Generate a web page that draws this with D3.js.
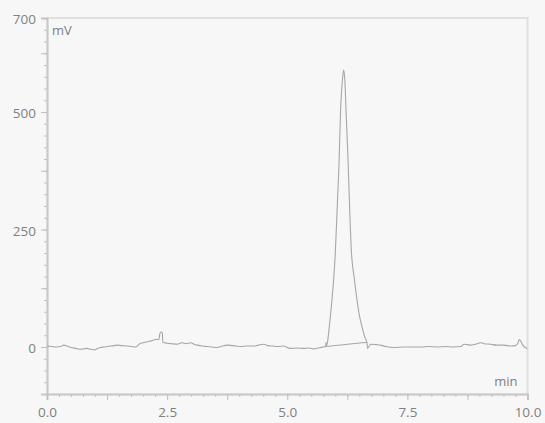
<!doctype html>
<html lang="en">
<head>
<meta charset="utf-8">
<script src="https://d3js.org/d3.v7.min.js"></script>
<style>
  body { margin: 0; background: #f7f7f7; }
  .tick text { font-family: "Open Sans", sans-serif; font-size: 13.5px; fill: #808080; }
</style>
</head>
<body>
<div id="chart"></div>
<script>
// chromatogram trace (time in min, signal in mV)
var times = [0.00, 0.10, 0.20, 0.28, 0.35, 0.42, 0.50, 0.60, 0.69, 0.76, 0.83, 0.92, 1.00, 1.05, 1.11, 1.20,
  1.32, 1.40, 1.46, 1.55, 1.67, 1.76, 1.84, 1.90, 1.94, 2.00, 2.08, 2.17, 2.26, 2.33, 2.35, 2.37, 2.40, 2.41,
  2.50, 2.60, 2.71, 2.81, 2.90, 2.99, 3.06, 3.13, 3.23, 3.33, 3.44, 3.54, 3.65, 3.75, 3.85, 3.94, 4.03, 4.15,
  4.31, 4.40, 4.51, 4.60, 4.70, 4.79, 4.92, 5.06, 5.20, 5.34, 5.45, 5.55, 5.65, 5.75, 5.80, 5.805, 5.81, 5.84,
  5.875, 5.93, 5.97, 6.00, 6.04, 6.08, 6.11, 6.15, 6.173, 6.20, 6.223, 6.265, 6.298, 6.333, 6.39, 6.452, 6.50,
  6.556, 6.61, 6.66, 6.67, 6.74, 6.85, 6.94, 7.05, 7.22, 7.43, 7.60, 7.78, 7.95, 8.13, 8.30, 8.45, 8.61, 8.68,
  8.75, 8.82, 8.92, 9.03, 9.10, 9.24, 9.35, 9.51, 9.65, 9.75, 9.80, 9.83, 9.87, 9.90, 9.95, 10.00];
var signal = [2, 1, 0, 1, 4, 2, -1, -3, -5, -4, -3, -5, -6, -3, -1, 0,
  2, 3, 4, 3, 2, 1, 0, 4, 8, 9, 11, 13, 16, 16, 29, 32, 30, 10,
  8, 7, 6, 9, 7, 9, 6, 4, 2, 1, 0, -1, 2, 4, 3, 2, 1, 2,
  2, 4, 6, 3, 2, 1, 2, -3, -2, -3, -2, -4, -2, 0, 1, 10, 2, 12,
  43, 100, 150, 200, 298, 398, 504, 570, 589, 565, 504, 398, 298, 206, 150, 100, 68,
  43, 22, 9, -3, 6, 5, 4, 1, -1, 0, 0, 0, 1, 0, 1, 0, 1, 6,
  5, 4, 6, 9, 7, 6, 4, 4, 2, 3, 8, 16, 10, 4, -1, -3];

// integration baseline under the main peak
var baseTimes = [5.81, 6.66];
var baseSignal = [1, 10];

var xMajor = [0, 2.5, 5, 7.5, 10];
var xMid = [1.25, 3.75, 6.25, 8.75];
var yMajor = [0, 250, 500, 700];
var yMid = [125, 375, 625];

var width = 545, height = 423;
var svg = d3.select("#chart").append("svg")
  .attr("width", width)
  .attr("height", height);

var x = d3.scaleLinear().domain([0, 10]).range([47, 527.5]);
var y = d3.scaleLinear().domain([-100, 700]).range([394, 18]);

// frame on top and right
svg.append("path")
  .attr("d", "M" + x(0) + "," + y(700) + "H" + x(10) + "V" + y(-100))
  .attr("fill", "none")
  .attr("stroke", "#e0e0e0")
  .attr("stroke-width", 2);

var xMinor = d3.range(0, 10.001, 0.25);
var yMinor = d3.range(-100, 700.001, 25);

// y axis: minor, mid, major
svg.append("g").attr("transform", "translate(" + x(0) + ",0)")
  .call(d3.axisLeft(y).tickValues(yMinor).tickSize(3).tickFormat(""));
svg.append("g").attr("transform", "translate(" + x(0) + ",0)")
  .call(d3.axisLeft(y).tickValues(yMid).tickSize(6).tickFormat(""));
svg.append("g").attr("transform", "translate(" + x(0) + ",0)")
  .call(d3.axisLeft(y).tickValues(yMajor).tickSize(6).tickPadding(5).tickFormat(d3.format("d")));

// x axis
svg.append("g").attr("transform", "translate(0," + y(-100) + ")")
  .call(d3.axisBottom(x).tickValues(xMinor).tickSize(3).tickFormat(""));
svg.append("g").attr("transform", "translate(0," + y(-100) + ")")
  .call(d3.axisBottom(x).tickValues(xMid).tickSize(6).tickFormat(""));
svg.append("g").attr("transform", "translate(0," + y(-100) + ")")
  .call(d3.axisBottom(x).tickValues(xMajor).tickSize(6).tickPadding(7).tickFormat(d3.format(".1f")));

svg.selectAll(".domain").attr("stroke", "#c8c8c8").attr("stroke-width", 1.5);
svg.selectAll(".tick line").attr("stroke", "#c0c0c0");
svg.selectAll(".tick text").attr("fill", "#808080");
svg.selectAll(".tick text").filter(function() { return this.getAttribute("dy") === "0.32em"; })
  .attr("dy", "0.42em");

// units
svg.append("text").attr("x", x(0) + 5).attr("y", y(700) + 17)
  .style("font-family", "Open Sans, sans-serif").style("font-size", "13px").attr("fill", "#808080")
  .text("mV");
svg.append("text").attr("x", x(10) - 10).attr("y", y(-100) - 8)
  .attr("text-anchor", "end")
  .style("font-family", "Open Sans, sans-serif").style("font-size", "13px").attr("fill", "#808080")
  .text("min");

// trace
var line = d3.line()
  .x(function(d, i) { return x(times[i]); })
  .y(function(d) { return y(d); })
  .curve(d3.curveMonotoneX);

svg.append("path")
  .datum(signal)
  .attr("d", line)
  .attr("fill", "none")
  .attr("stroke", "#a6a6a6")
  .attr("stroke-width", 1.1);

var baseLine = d3.line()
  .x(function(d, i) { return x(baseTimes[i]); })
  .y(function(d) { return y(d); });

svg.append("path")
  .datum(baseSignal)
  .attr("d", baseLine)
  .attr("fill", "none")
  .attr("stroke", "#a6a6a6")
  .attr("stroke-width", 1.1);
</script>
</body>
</html>
